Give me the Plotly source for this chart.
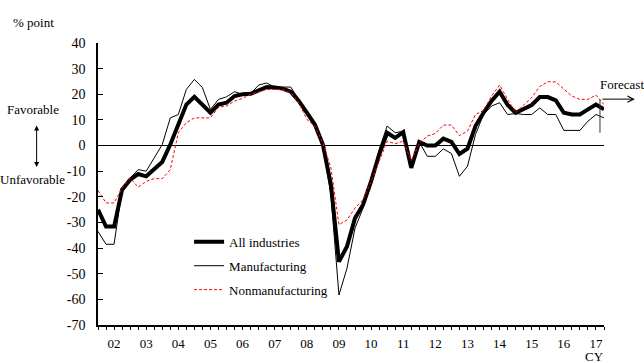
import plotly.graph_objects as go

# Quarterly observations (index 0 .. 63); year labels sit at every 4th quarter
year_labels = ["02", "03", "04", "05", "06", "07", "08", "09",
               "10", "11", "12", "13", "14", "15", "16", "17"]
y_ticks = [40, 30, 20, 10, 0, -10, -20, -30, -40, -50, -60, -70]

all_industries = [
    -25.0, -31.6, -31.6, -17.2, -13.3, -11.1, -12.0, -9.4, -6.4, 0.4,
    8.5, 16.0, 19.0, 16.0, 12.8, 16.0, 16.7, 19.3, 20.0, 20.2,
    21.5, 22.8, 22.6, 22.2, 21.0, 17.4, 12.8, 8.2, 0.4, -15.3,
    -45.3, -39.4, -28.3, -23.1, -14.0, -3.5, 5.0, 3.0, 5.2, -8.7,
    1.4, 0.0, 0.0, 2.7, 1.4, -3.3, -1.2, 7.6, 12.8, 17.4,
    21.0, 15.8, 12.8, 14.1, 15.8, 18.9, 18.9, 17.6, 12.8, 12.1,
    12.1, 14.1, 16.0, 14.1,
]

manufacturing = [
    -33.5, -38.5, -38.5, -17.2, -12.7, -9.4, -10.0, -4.8, 0.4, 10.8,
    12.1, 21.9, 25.8, 22.6, 14.1, 18.0, 19.0, 21.0, 20.0, 20.2,
    23.6, 24.4, 22.8, 22.8, 22.8, 18.0, 12.8, 7.6, -0.9, -19.2,
    -58.3, -47.9, -32.2, -24.4, -14.0, -1.6, 7.6, 5.0, 5.6, -8.7,
    1.4, -4.2, -4.2, -1.3, -3.1, -12.0, -8.1, 4.3, 12.1, 15.4,
    16.7, 12.1, 12.5, 12.1, 12.1, 14.7, 12.1, 12.1, 5.9, 5.9,
    5.9, 9.5, 12.1, 10.8,
]

nonmanufacturing = [
    -17.5, -22.4, -22.4, -16.6, -12.7, -16.2, -14.0, -12.9, -12.9, -9.4,
    5.0, 8.9, 10.8, 10.8, 10.8, 15.0, 15.4, 17.4, 18.4, 20.0,
    21.0, 21.9, 21.9, 21.9, 20.6, 16.7, 10.2, 7.6, 1.0, -8.7,
    -30.9, -29.0, -24.4, -21.1, -14.0, -6.1, 1.7, 0.7, 1.7, -5.9,
    1.0, 3.7, 4.7, 8.0, 8.0, 3.9, 5.6, 12.1, 13.7, 19.3,
    23.6, 18.0, 12.8, 15.8, 18.7, 23.0, 24.9, 24.8, 21.9, 19.3,
    18.0, 18.0, 19.7, 16.0,
]

forecast_marker = 62.5  # between last actual and forecast

quarters = list(range(len(all_industries)))
label_pos = [2 + 4 * k for k in range(len(year_labels))]
tick_text = []
for q in quarters:
    tick_text.append(year_labels[label_pos.index(q)] if q in label_pos else "")
y_text = [str(v) for v in y_ticks]  # plain hyphen minus

FONT = "Times New Roman, Liberation Serif, serif"

fig = go.Figure()
fig.add_trace(go.Scatter(x=quarters, y=all_industries, mode="lines",
                         name="All industries", legendgroup="a",
                         line=dict(color="black", width=4)))
fig.add_trace(go.Scatter(x=quarters, y=manufacturing, mode="lines",
                         name="Manufacturing", legendgroup="b",
                         line=dict(color="black", width=1)))
fig.add_trace(go.Scatter(x=quarters, y=nonmanufacturing, mode="lines",
                         name="Nonmanufacturing", legendgroup="c",
                         line=dict(color="red", width=1, dash="3px,2px")))

fig.update_layout(
    width=644, height=363,
    margin=dict(l=98, r=40, t=43, b=38, autoexpand=False),
    paper_bgcolor="white", plot_bgcolor="white",
    font=dict(family=FONT, size=13, color="black"),
    showlegend=True,
    legend=dict(x=0.18, y=0.348, xanchor="left", yanchor="top",
                bgcolor="rgba(0,0,0,0)", font=dict(family=FONT, size=13),
                tracegroupgap=4, traceorder="grouped"),
    xaxis=dict(range=[0, 63], tickmode="array", tickvals=quarters,
               ticktext=tick_text, ticks="outside", ticklen=3,
               tickcolor="black", showline=True, linecolor="black",
               linewidth=1.5, showgrid=False, zeroline=False,
               tickfont=dict(family=FONT, size=13), ticklabelstandoff=3),
    yaxis=dict(range=[-70, 40], tickmode="array", tickvals=y_ticks,
               ticktext=y_text, ticks="inside", ticklen=5,
               tickcolor="black", showline=True, linecolor="black",
               linewidth=1.5, showgrid=False, zeroline=True,
               zerolinecolor="black", zerolinewidth=1,
               tickfont=dict(family=FONT, size=14), ticklabelstandoff=8),
)

fig.add_shape(type="line", xref="x", yref="y",
              x0=forecast_marker, x1=forecast_marker, y0=18, y1=5,
              line=dict(color="#333", width=1))

ann = [
    dict(text="% point", x=-0.1265, y=1.072, xref="paper", yref="paper",
         showarrow=False),
    dict(text="Favorable", x=-0.1275, y=14.0, xref="paper", yref="y",
         showarrow=False),
    dict(text="Unfavorable", x=-0.1296, y=-13.2, xref="paper", yref="y",
         showarrow=False),
    dict(text="CY", x=0.981, y=-0.113, xref="paper", yref="paper",
         showarrow=False),
    dict(text="Forecast", x=0.988, y=23.7, xref="paper", yref="y",
         xanchor="left", showarrow=False),
]
for a in ann:
    a["font"] = dict(family=FONT, size=13)
    a.setdefault("xanchor", "center")
    a["yanchor"] = "middle"
    fig.add_annotation(**a)

# double-headed arrow and forecast arrow
fig.add_annotation(text="", x=-0.1213, y=-8.4, xref="paper", yref="y",
                   showarrow=True, ax=0, ay=-43, arrowside="end+start",
                   arrowhead=2, arrowsize=1, arrowwidth=1, arrowcolor="black")
fig.add_annotation(text="", x=1.061, y=18.1, xref="paper", yref="y",
                   showarrow=True, ax=-34, ay=0, arrowhead=5, arrowsize=1.2,
                   arrowwidth=1, arrowcolor="black")

fig.write_html("out.html", config={"displayModeBar": False},
               post_script="document.body.style.margin='0';"
                           "document.body.style.padding='0';")
